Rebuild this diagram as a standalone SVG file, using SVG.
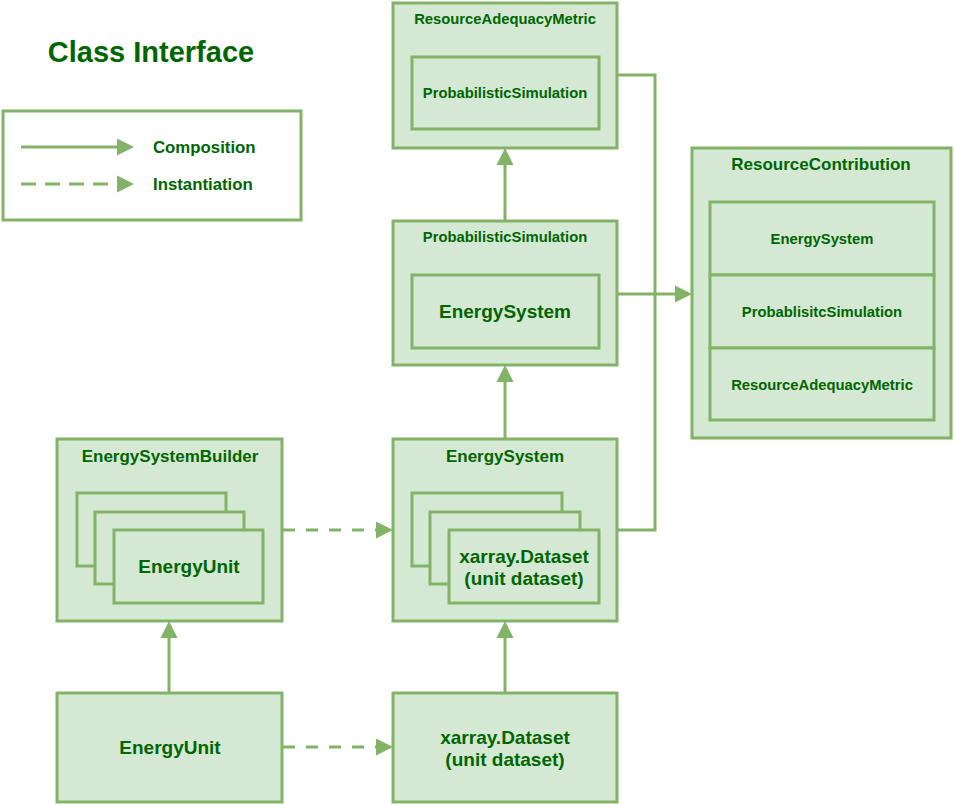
<svg xmlns="http://www.w3.org/2000/svg" width="954" height="804" viewBox="0 0 954 804">
<style>
.box{fill:#d5e8d4;stroke:#82b366;stroke-width:3}
.lg{fill:#ffffff;stroke:#82b366;stroke-width:3}
.ln{fill:none;stroke:#82b366;stroke-width:3}
.dash{stroke-dasharray:12 11}
text{font-family:"Liberation Sans",Arial,sans-serif;font-weight:bold;fill:#006600;dominant-baseline:central}
.c{text-anchor:middle}
.s{font-size:14.8px}
.m{font-size:17px}
.b{font-size:19px}
</style>
<defs>
<marker id="arr" markerUnits="userSpaceOnUse" markerWidth="17" markerHeight="17" refX="0" refY="8.5" orient="auto" overflow="visible">
<path d="M0,0 L17,8.5 L0,17 Z" fill="#82b366"/>
</marker>
</defs>
<rect width="954" height="804" fill="#ffffff"/>
<g id="title"><text x="151" y="52" class="c" style="font-size:29px">Class Interface</text></g>
<g id="legend">
<rect class="lg" x="3" y="111" width="298" height="109"/>
<line class="ln" x1="21" y1="147" x2="117" y2="147" marker-end="url(#arr)"/>
<line class="ln" x1="21" y1="184" x2="117" y2="184" style="stroke-dasharray:15 9" marker-end="url(#arr)"/>
<text x="153" y="147" style="font-size:16.8px">Composition</text>
<text x="153" y="184" style="font-size:16.8px">Instantiation</text>
</g>
<g id="connectors">
<path class="ln" d="M617,75 H655 V294"/>
<path class="ln" d="M617,530 H655 V294"/>
<line class="ln" x1="617" y1="294" x2="675" y2="294" marker-end="url(#arr)"/>
<line class="ln" x1="505" y1="220" x2="505" y2="165" marker-end="url(#arr)"/>
<line class="ln" x1="505" y1="439" x2="505" y2="382" marker-end="url(#arr)"/>
<line class="ln" x1="505" y1="692" x2="505" y2="638" marker-end="url(#arr)"/>
<line class="ln" x1="169" y1="692" x2="169" y2="638" marker-end="url(#arr)"/>
<line class="ln dash" x1="283" y1="530" x2="376" y2="530" marker-end="url(#arr)"/>
<line class="ln dash" x1="283" y1="747" x2="376" y2="747" marker-end="url(#arr)"/>
</g>
<g id="resourceAdequacyMetric">
<rect class="box" x="393" y="3" width="224" height="145"/>
<text x="505" y="19" class="c s">ResourceAdequacyMetric</text>
<rect class="box" x="412" y="57" width="187" height="72"/>
<text x="505" y="93" class="c s">ProbabilisticSimulation</text>
</g>
<g id="probabilisticSimulation">
<rect class="box" x="393" y="221" width="224" height="144"/>
<text x="505" y="237" class="c s">ProbabilisticSimulation</text>
<rect class="box" x="412" y="275" width="187" height="73"/>
<text x="505" y="311" class="c b">EnergySystem</text>
</g>
<g id="resourceContribution">
<rect class="box" x="692" y="148" width="259" height="290"/>
<text x="821" y="164" class="c m">ResourceContribution</text>
<rect class="box" x="710" y="202" width="224" height="73"/>
<text x="822" y="239" class="c s">EnergySystem</text>
<rect class="box" x="710" y="275" width="224" height="73"/>
<text x="822" y="312" class="c s">ProbablisitcSimulation</text>
<rect class="box" x="710" y="348" width="224" height="72"/>
<text x="822" y="385" class="c s">ResourceAdequacyMetric</text>
</g>
<g id="energySystemBuilder">
<rect class="box" x="57" y="439" width="225" height="182"/>
<text x="170" y="456" class="c m">EnergySystemBuilder</text>
<rect class="box" x="77" y="493" width="149" height="73"/>
<rect class="box" x="95" y="512" width="149" height="72"/>
<rect class="box" x="114" y="530" width="149" height="73"/>
<text x="189" y="566" class="c b">EnergyUnit</text>
</g>
<g id="energySystem">
<rect class="box" x="393" y="439" width="224" height="182"/>
<text x="505" y="456" class="c m">EnergySystem</text>
<rect class="box" x="412" y="493" width="150" height="73"/>
<rect class="box" x="430" y="512" width="150" height="72"/>
<rect class="box" x="449" y="530" width="150" height="73"/>
<text x="524" y="556" class="c b">xarray.Dataset</text>
<text x="524" y="578" class="c b">(unit dataset)</text>
</g>
<g id="energyUnit">
<rect class="box" x="57" y="693" width="225" height="109"/>
<text x="170" y="747" class="c b">EnergyUnit</text>
</g>
<g id="xarrayDataset">
<rect class="box" x="393" y="693" width="224" height="109"/>
<text x="505" y="737" class="c b">xarray.Dataset</text>
<text x="505" y="759" class="c b">(unit dataset)</text>
</g>
</svg>
